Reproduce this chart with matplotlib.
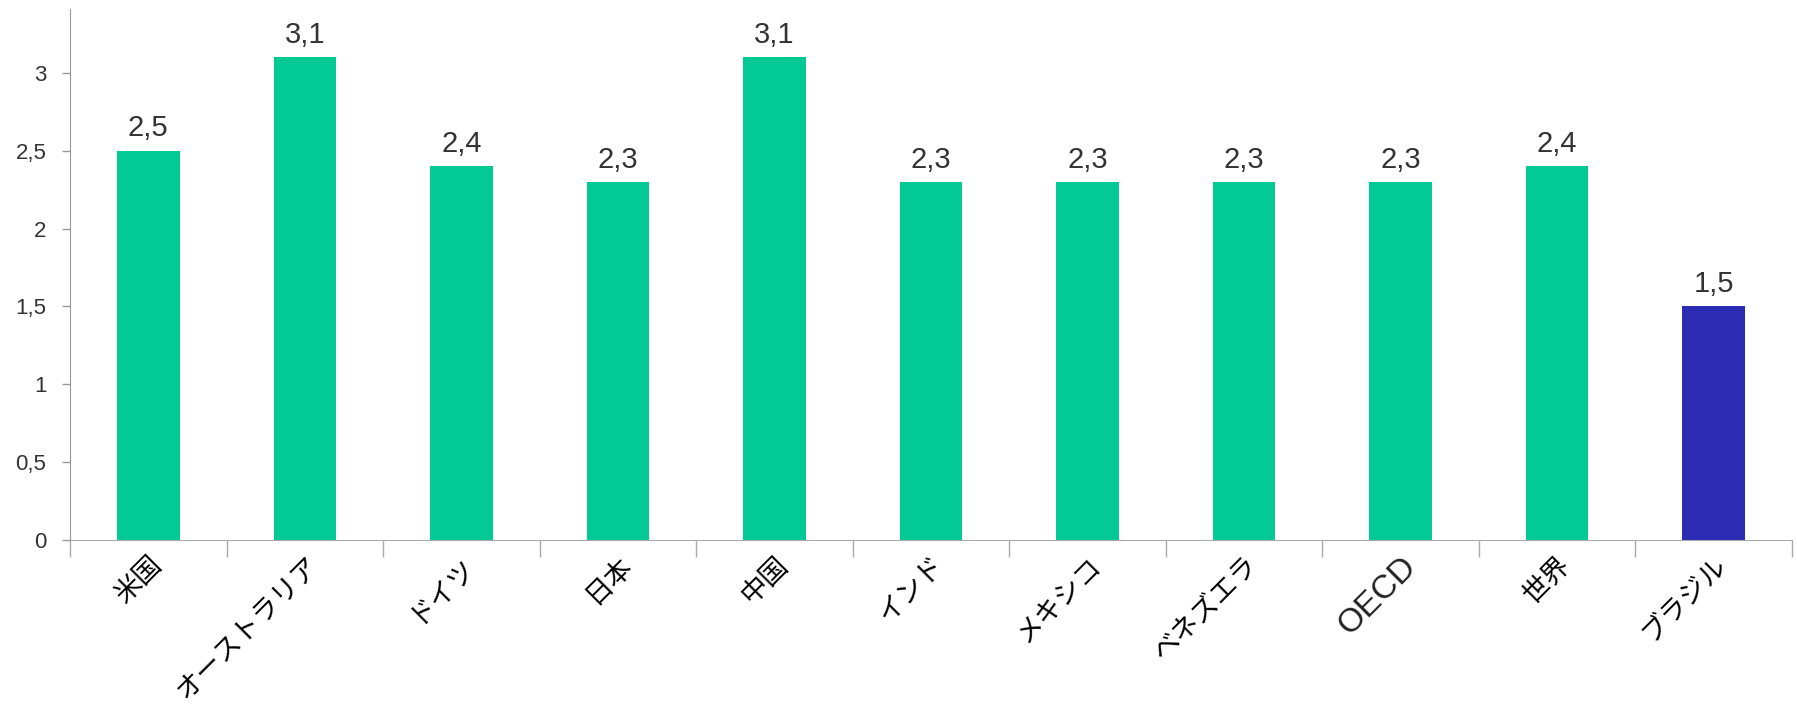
import numpy as np
import matplotlib
matplotlib.use("Agg")
import matplotlib.pyplot as plt

# ───────── data ─────────
countries = ["米国", "オーストラリア", "ドイツ", "日本", "中国", "インド",
             "メキシコ", "ベネズエラ", "OECD", "世界", "ブラジル"]
values    = [2.5, 3.1, 2.4, 2.3, 3.1, 2.3, 2.3, 2.3, 2.3, 2.4, 1.5]
highlight = "ブラジル"
y_ticks   = [0, 0.5, 1, 1.5, 2, 2.5, 3]
# ────────────────────────

GREEN = "#03C994"
BLUE  = "#2C2BB3"

def comma(v):
    s = f"{v:g}"
    return s.replace(".", ",")

fig = plt.figure(figsize=(17.97, 7.08), dpi=100)
ax = fig.add_axes([70 / 1797, 1 - 540 / 708, 1722 / 1797, 531 / 708])

x = np.arange(len(countries))
colors = [BLUE if c == highlight else GREEN for c in countries]
bars = ax.bar(x, values, width=0.4, color=colors, zorder=2)

for xi, v in zip(x, values):
    ax.annotate(comma(v), xy=(xi, v), xytext=(0, 6), textcoords="offset points",
                ha="center", va="bottom", fontsize=21, color="#333333",
                family="Liberation Sans")

ax.set_xlim(-0.5, len(countries) - 0.5)
ax.set_ylim(0, 3.41)

# y axis
ax.set_yticks(y_ticks)
ax.set_yticklabels([comma(t) for t in y_ticks], fontsize=16, color="#333333",
                   family="Liberation Sans")
ax.tick_params(axis="y", length=6, width=1, color="#999999", direction="out", pad=11)

# x axis: ticks at category boundaries, labels at bar centres
ax.set_xticks(np.arange(len(countries) + 1) - 0.5)
ax.set_xticklabels([])
ax.tick_params(axis="x", length=12, width=1, color="#aaaaaa", direction="out")
ax.set_xticks(x, minor=True)
ax.set_xticklabels(countries, minor=True, rotation=45, ha="right",
                   rotation_mode="anchor", fontsize=19.5,
                   family=["Noto Sans CJK JP", "DejaVu Sans"])
ax.tick_params(axis="x", which="minor", length=0, pad=8)

for lbl in ax.get_xticklabels(minor=True):
    if lbl.get_text() == "OECD":
        lbl.set_family("Liberation Sans")
        lbl.set_fontsize(24)
        lbl.set_color("#222222")

for side in ("top", "right"):
    ax.spines[side].set_visible(False)
ax.spines["left"].set_color("#999999")
ax.spines["bottom"].set_color("#aaaaaa")

fig.savefig("out.png", dpi=100, facecolor="white")
